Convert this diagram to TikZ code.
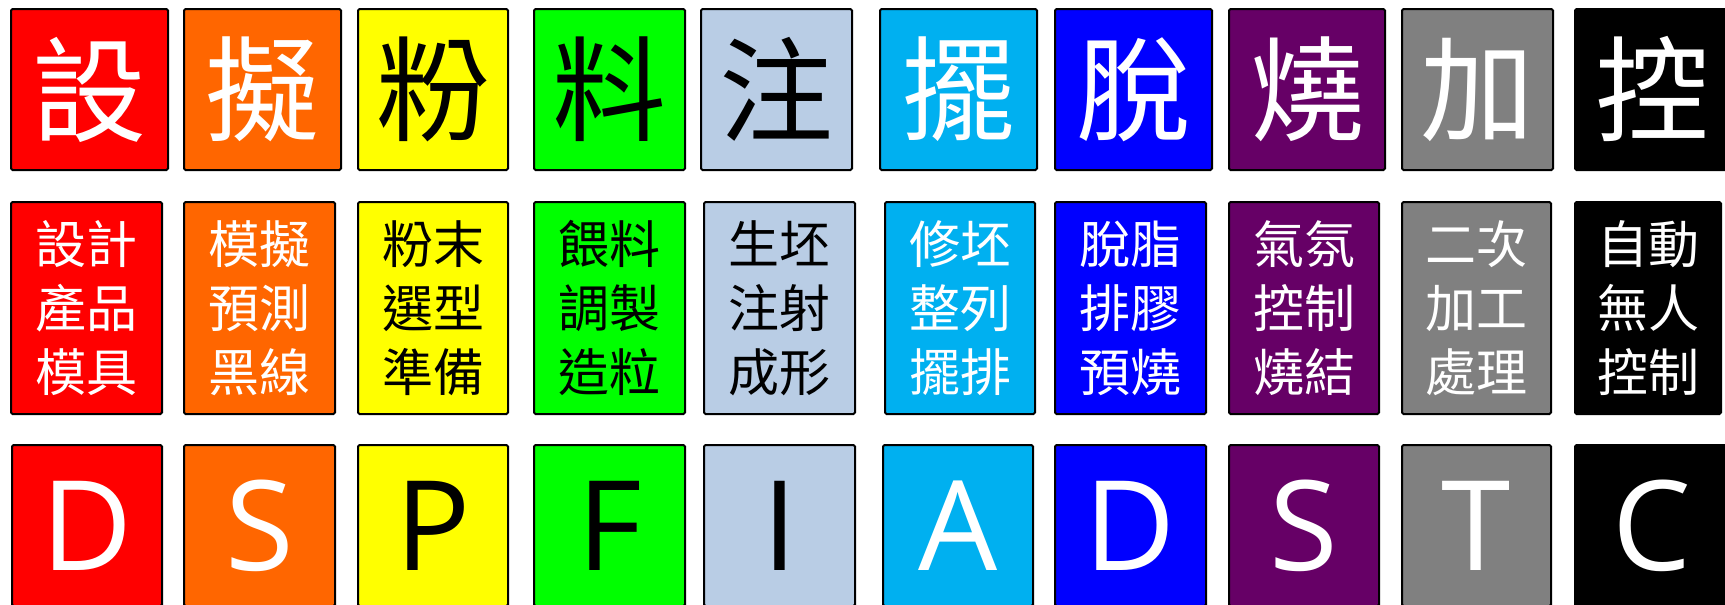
\documentclass[tikz,border=0pt]{standalone}
\usepackage{fontspec}
\setmainfont{Noto Sans CJK TC}
\newfontfamily\latinf{Open Sans}
\definecolor{cRed}{HTML}{FF0000}
\definecolor{cOrange}{HTML}{FF6600}
\definecolor{cYellow}{HTML}{FFFF00}
\definecolor{cGreen}{HTML}{00FF00}
\definecolor{cPale}{HTML}{B9CDE5}
\definecolor{cSky}{HTML}{00B0F0}
\definecolor{cBlue}{HTML}{0000FF}
\definecolor{cPurple}{HTML}{660066}
\definecolor{cGray}{HTML}{808080}
\definecolor{cBlack}{HTML}{000000}
\begin{document}
\begin{tikzpicture}[x=1pt,y=-1pt,
  cell/.style={draw=black, line width=2pt, rounded corners=1.5pt, inner sep=0pt, outer sep=0pt, align=center},
  big/.style={cell, minimum height=161pt, font=\fontsize{114}{114}\selectfont},
  mid/.style={cell, minimum height=212pt, font=\fontsize{51}{64}\selectfont},
  lat/.style={cell, minimum height=161pt, font=\latinf\fontsize{125}{125}\selectfont},
  c1/.style={fill=cRed, text=white},
  c2/.style={fill=cOrange, text=white},
  c3/.style={fill=cYellow, text=black},
  c4/.style={fill=cGreen, text=black},
  c5/.style={fill=cPale, text=black},
  c6/.style={fill=cSky, text=white},
  c7/.style={fill=cBlue, text=white},
  c8/.style={fill=cPurple, text=white},
  c9/.style={fill=cGray, text=white},
  c10/.style={fill=cBlack, text=white}]
\useasboundingbox (0,0) rectangle (1725,605);
\clip (0,0) rectangle (1725,605);
% Row 1
\node[big,c1,minimum width=157pt] (a1) at (89.5,89.5) {設};
\node[big,c2,minimum width=157pt] (a2) at (262.5,89.5) {擬};
\node[big,c3,minimum width=150pt] (a3) at (433,89.5) {粉};
\node[big,c4,minimum width=151pt] (a4) at (609.5,89.5) {料};
\node[big,c5,minimum width=151pt] (a5) at (776.5,89.5) {注};
\node[big,c6,minimum width=157pt] (a6) at (958.5,89.5) {擺};
\node[big,c7,minimum width=157pt] (a7) at (1133.5,89.5) {脫};
\node[big,c8,minimum width=156pt] (a8) at (1307,89.5) {燒};
\node[big,c9,minimum width=151pt] (a9) at (1477.5,89.5) {加};
\node[big,c10,minimum width=154pt] (a10) at (1652,89.5) {控};
% Row 2
\node[mid,c1,minimum width=151pt] (b1) at (86.5,308) {設計\\產品\\模具};
\node[mid,c2,minimum width=151pt] (b2) at (259.5,308) {模擬\\預測\\黑線};
\node[mid,c3,minimum width=150pt] (b3) at (433,308) {粉末\\選型\\準備};
\node[mid,c4,minimum width=151pt] (b4) at (609.5,308) {餵料\\調製\\造粒};
\node[mid,c5,minimum width=151pt] (b5) at (779.5,308) {生坯\\注射\\成形};
\node[mid,c6,minimum width=150pt] (b6) at (960,308) {修坯\\整列\\擺排};
\node[mid,c7,minimum width=151pt] (b7) at (1130.5,308) {脫脂\\排膠\\預燒};
\node[mid,c8,minimum width=150pt] (b8) at (1304,308) {氣氛\\控制\\燒結};
\node[mid,c9,minimum width=149pt] (b9) at (1476.5,308) {二次\\加工\\處理};
\node[mid,c10,minimum width=146pt] (b10) at (1648,308) {自動\\無人\\控制};
% Row 3
\node[lat,c1,minimum width=150pt] (d1) at (87,525.5) {D};
\node[lat,c2,minimum width=151pt] (d2) at (259.5,525.5) {S};
\node[lat,c3,minimum width=150pt] (d3) at (433,525.5) {P};
\node[lat,c4,minimum width=151pt] (d4) at (609.5,525.5) {F};
\node[lat,c5,minimum width=151pt] (d5) at (779.5,525.5) {I};
\node[lat,c6,minimum width=150pt] (d6) at (958,525.5) {A};
\node[lat,c7,minimum width=151pt] (d7) at (1130.5,525.5) {D};
\node[lat,c8,minimum width=150pt] (d8) at (1304,525.5) {S};
\node[lat,c9,minimum width=149pt] (d9) at (1476.5,525.5) {T};
\node[lat,c10,minimum width=154pt] (d10) at (1652,525.5) {C};
\end{tikzpicture}
\end{document}
